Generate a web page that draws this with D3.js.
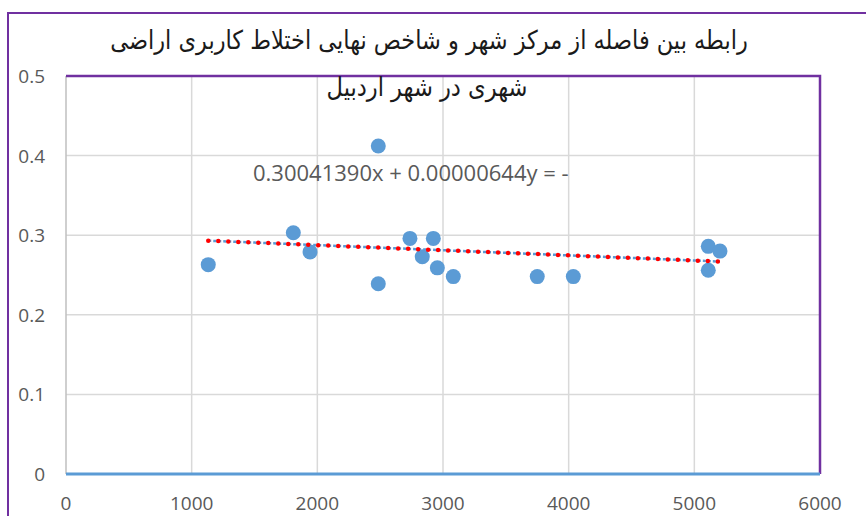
<!DOCTYPE html>
<html>
<head>
<meta charset="utf-8">
<script src="https://cdn.jsdelivr.net/npm/d3@7"></script>
<style>
  html, body { margin: 0; padding: 0; background: #fff; }
  svg { display: block; }
</style>
</head>
<body>
<svg id="chart" width="866" height="516"></svg>
<script>
// ---- data ----
const distances = [1132, 1809, 1942, 2485, 2485, 2737, 2835, 2923, 2955, 3082, 3750, 4037, 5111, 5204, 5111];
const mixIndex  = [0.263, 0.303, 0.279, 0.412, 0.239, 0.296, 0.273, 0.296, 0.259, 0.248, 0.248, 0.248, 0.286, 0.280, 0.256];
const xTicks = [0, 1000, 2000, 3000, 4000, 5000, 6000];
const yTicks = [0, 0.1, 0.2, 0.3, 0.4, 0.5];
const yTickLabels = ["0", "0.1", "0.2", "0.3", "0.4", "0.5"];
const titleLines = ["رابطه بین فاصله از مرکز شهر و شاخص نهایی اختلاط کاربری اراضی", "شهری در شهر اردبیل"];
const trendSlope = -0.00000644;
const trendIntercept = 0.30041390;
const equationLabel = "0.30041390x + 0.00000644y = -";

const svg = d3.select("#chart");
const W = 866, H = 516;
const plot = { left: 66, right: 820, top: 76, bottom: 474 };
const purple = "#7030A0";
const blue = "#5B9BD5";
const labelFont = "'Open Sans', 'Liberation Sans', sans-serif";

svg.append("rect").attr("width", W).attr("height", H).attr("fill", "#fff");

const x = d3.scaleLinear().domain([0, 6000]).range([plot.left, plot.right]);
const y = d3.scaleLinear().domain([0, 0.5]).range([plot.bottom, plot.top]);

// outer chart border (extends past right/bottom edge)
svg.append("rect")
  .attr("x", 8).attr("y", 13)
  .attr("width", W + 20).attr("height", H + 20)
  .attr("fill", "none").attr("stroke", purple).attr("stroke-width", 2);

// gridlines
svg.append("g").selectAll("line.vg").data(xTicks.filter(d => d > 0)).join("line")
  .attr("x1", d => x(d)).attr("x2", d => x(d))
  .attr("y1", plot.top).attr("y2", plot.bottom)
  .attr("stroke", "#D9D9D9").attr("stroke-width", 1.5);
svg.append("g").selectAll("line.hg").data(yTicks.filter(d => d > 0)).join("line")
  .attr("x1", plot.left).attr("x2", plot.right)
  .attr("y1", d => y(d)).attr("y2", d => y(d))
  .attr("stroke", "#D9D9D9").attr("stroke-width", 1.5);

// left axis line
svg.append("line")
  .attr("x1", x(0)).attr("x2", x(0)).attr("y1", plot.top).attr("y2", plot.bottom)
  .attr("stroke", "#BFBFBF").attr("stroke-width", 1.5);

// plot-area purple top/right border
svg.append("path")
  .attr("d", `M${plot.left},${plot.top}H${plot.right}V${plot.bottom}`)
  .attr("fill", "none").attr("stroke", purple).attr("stroke-width", 2.5);

// bottom axis line (blue)
svg.append("line")
  .attr("x1", plot.left).attr("x2", plot.right)
  .attr("y1", y(0)).attr("y2", y(0))
  .attr("stroke", blue).attr("stroke-width", 3);

// tick labels
svg.append("g").selectAll("text").data(yTicks).join("text")
  .attr("x", 45).attr("y", d => y(d) + 7)
  .attr("text-anchor", "end")
  .attr("font-family", labelFont).attr("font-size", 19).attr("fill", "#595959")
  .text((d, i) => yTickLabels[i]);
svg.append("g").selectAll("text").data(xTicks).join("text")
  .attr("x", d => x(d)).attr("y", 510)
  .attr("text-anchor", "middle")
  .attr("font-family", labelFont).attr("font-size", 19).attr("fill", "#595959")
  .text(d => String(d));

// points
const pts = distances.map((d, i) => ({ x: d, y: mixIndex[i] }));
svg.append("g").selectAll("circle").data(pts).join("circle")
  .attr("cx", d => x(d.x)).attr("cy", d => y(d.y)).attr("r", 7.5)
  .attr("fill", blue);

// trendline
const xMin = d3.min(distances), xMax = d3.max(distances);
const trend = [xMin, xMax].map(v => ({ x: v, y: trendIntercept + trendSlope * v }));
const line = d3.line().x(d => x(d.x)).y(d => y(d.y));
svg.append("path").datum(trend).attr("d", line)
  .attr("fill", "none").attr("stroke", blue).attr("stroke-width", 2.5)
  .attr("stroke-dasharray", "3,2");
svg.append("path").datum(trend).attr("d", line)
  .attr("fill", "none").attr("stroke", "#FF0000").attr("stroke-width", 4.5)
  .attr("stroke-linecap", "round").attr("stroke-dasharray", "0,10");

// equation label
svg.append("text")
  .attr("x", 253).attr("y", 181)
  .attr("direction", "ltr")
  .attr("font-family", labelFont).attr("font-size", 22).attr("fill", "#595959")
  .text(equationLabel);

// title (two lines, scaled to the reference widths)
const titleSpec = [
  { text: titleLines[0], cx: 429, baseline: 49, width: 638 },
  { text: titleLines[1], cx: 427, baseline: 96, width: 201 }
];
titleSpec.forEach(t => {
  const g = svg.append("g");
  const el = g.append("text")
    .attr("x", 0).attr("y", 0)
    .attr("text-anchor", "middle")
    .attr("font-family", "'DejaVu Sans', sans-serif")
    .attr("font-size", 26).attr("fill", "#1a1a1a")
    .text(t.text);
  const w = el.node().getComputedTextLength();
  const s = w > 0 ? t.width / w : 1;
  g.attr("transform", `translate(${t.cx},${t.baseline}) scale(${s},1)`);
});
</script>
</body>
</html>
